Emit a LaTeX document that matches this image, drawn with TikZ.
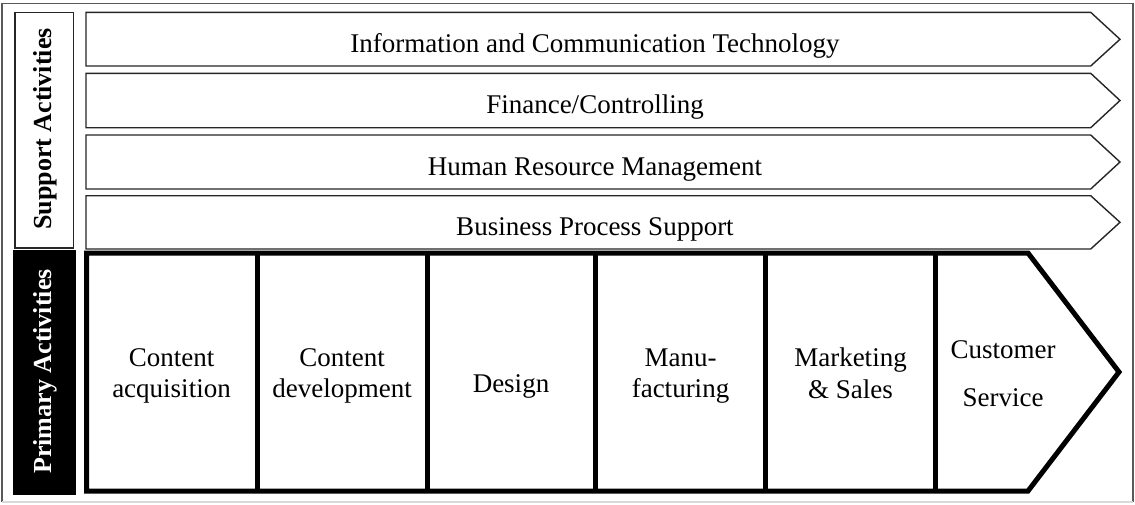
\documentclass[tikz,border=0pt]{standalone}
\usepackage{fontspec}
\setmainfont{Liberation Serif}
\begin{document}
\begin{tikzpicture}[x=1pt,y=-1pt,
  frameline/.style={draw=black!65, line width=1.3pt},
  frameedge/.style={draw=black!15, line width=1.3pt},
  band/.style={draw=black!85, line width=1.4pt, line join=miter, fill=white},
  chain/.style={draw=black, line width=5pt, line join=miter},
  bandtext/.style={anchor=base, font=\fontsize{27}{32}\selectfont, inner sep=0pt},
  celltext/.style={anchor=base, font=\fontsize{27}{32}\selectfont, inner sep=0pt},
  sidelabel/.style={rotate=90, anchor=base, font=\bfseries\fontsize{26}{30}\selectfont, inner sep=0pt}]

\useasboundingbox (0,0) rectangle (1135,504);
\fill[white] (0,0) rectangle (1135,504);

% outer frame
\draw[frameline] (2,502) -- (2,3.5) -- (1133,3.5) -- (1133,502);
\draw[frameedge] (2,502) -- (1133,502);

% side labels
\draw[band] (15,12.3) rectangle (73.3,248);
\node[sidelabel] (support) at (51.5,129) {Support Activities};
\fill[black] (12.7,250) rectangle (76,495);
\node[sidelabel, text=white] (primary) at (51.5,371.5) {Primary Activities};

% support activities: arrow bands
\draw[band] (86,12.3) -- (1090.7,12.3) -- (1120,39.3) -- (1090.7,66) -- (86,66) -- cycle;
\draw[band] (86,73.3) -- (1090.7,73.3) -- (1120,100.5) -- (1090.7,127.7) -- (86,127.7) -- cycle;
\draw[band] (86,135) -- (1090.7,135) -- (1120,162) -- (1090.7,189) -- (86,189) -- cycle;
\draw[band] (86,195.7) -- (1090.7,195.7) -- (1120,222.3) -- (1090.7,249) -- (86,249) -- cycle;

\node[bandtext] (ict) at (595,52.3) {Information and Communication Technology};
\node[bandtext] (fin) at (595,113.5) {Finance/Controlling};
\node[bandtext] (hrm) at (595,175) {Human Resource Management};
\node[bandtext] (bps) at (595,235.5) {Business Process Support};

% primary activities: chain of cells
\draw[chain] (86.5,253) -- (1028,253) -- (1119,372) -- (1028,491) -- (86.5,491) -- cycle;
\foreach \xd in {257,427,595.5,765.5,935.5}
  \draw[chain] (\xd,253) -- (\xd,491);

\node[celltext] (ca1) at (171.5,366) {Content};
\node[celltext] (ca2) at (171.5,397.5) {acquisition};
\node[celltext] (cd1) at (342,366) {Content};
\node[celltext] (cd2) at (342,397.5) {development};
\node[celltext] (des) at (511,392) {Design};
\node[celltext] (man1) at (680.5,366) {Manu-};
\node[celltext] (man2) at (680.5,397.5) {facturing};
\node[celltext] (ms1) at (850.5,366.5) {Marketing};
\node[celltext] (ms2) at (850.5,398) {\& Sales};
\node[celltext] (cs1) at (1003,358.3) {Customer};
\node[celltext] (cs2) at (1003,406.5) {Service};
\end{tikzpicture}
\end{document}
